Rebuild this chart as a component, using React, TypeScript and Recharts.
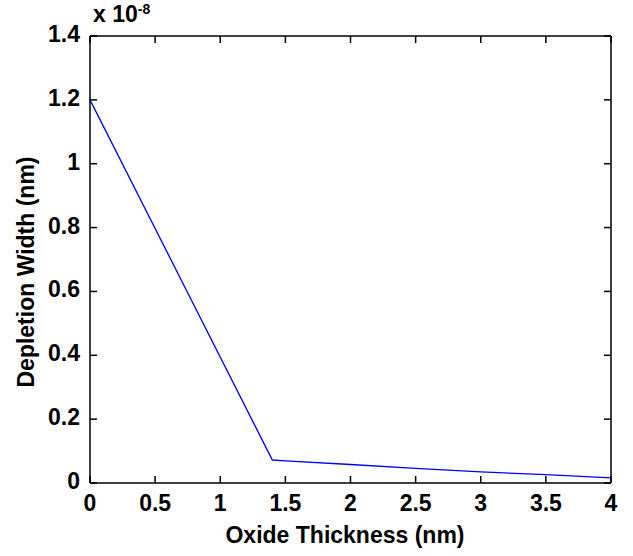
import { Label, Line, LineChart, ReferenceLine, XAxis, YAxis } from "recharts";

const thickness = [0, 1.4, 1.5, 2, 2.5, 3, 3.5, 4];
const depletion = [1.2, 0.072, 0.069, 0.058, 0.046, 0.035, 0.026, 0.016];

const xTicks = [0, 0.5, 1, 1.5, 2, 2.5, 3, 3.5, 4];
const yTicks = [0, 0.2, 0.4, 0.6, 0.8, 1, 1.2, 1.4];

const rows = thickness.map((t, i) => ({ t, w: depletion[i] }));

const FONT = "'Liberation Sans', Arial, sans-serif";
const INK = "#000";
// inward tick length, in axis units (about 7px each way)
const X_TICK = 0.054;
const Y_TICK = 0.022;

function BottomTick({ x, y, payload }: any) {
  return (
    <text x={x} y={y + 28} textAnchor="middle" fontFamily={FONT} fontWeight="bold" fontSize={23} fill="#000">
      {payload.value}
    </text>
  );
}

function LeftTick({ x, y, payload }: any) {
  return (
    <text x={x - 10} y={y + 6} textAnchor="end" fontFamily={FONT} fontWeight="bold" fontSize={23} fill="#000">
      {payload.value}
    </text>
  );
}

const axisLine = { stroke: INK, strokeWidth: 1.5 };

export default function App() {
  const tickMarks = [
    ...xTicks.map((t) => [{ x: t, y: 0 }, { x: t, y: Y_TICK }]),
    ...xTicks.map((t) => [{ x: t, y: 1.4 }, { x: t, y: 1.4 - Y_TICK }]),
    ...yTicks.map((v) => [{ x: 0, y: v }, { x: X_TICK, y: v }]),
    ...yTicks.map((v) => [{ x: 4, y: v }, { x: 4 - X_TICK, y: v }]),
  ];

  return (
    <div style={{ position: "absolute", left: 0, top: 0, background: "#fff" }}>
      <LineChart width={633} height={556} data={rows} margin={{ top: 35, right: 21, left: 0, bottom: 0 }}>
        <XAxis
          xAxisId="b"
          dataKey="t"
          type="number"
          domain={[0, 4]}
          ticks={xTicks}
          height={73}
          tickSize={0}
          tickMargin={0}
          tickLine={false}
          tick={<BottomTick />}
          axisLine={axisLine}
          interval={0}
        >
          <Label
            content={() => (
              <text x={345} y={543} textAnchor="middle" fontFamily={FONT} fontWeight="bold" fontSize={23} fill="#000">
                Oxide Thickness (nm)
              </text>
            )}
          />
        </XAxis>
        <XAxis
          xAxisId="t"
          orientation="top"
          dataKey="t"
          type="number"
          domain={[0, 4]}
          ticks={xTicks}
          height={1}
          tickLine={false}
          tick={false}
          axisLine={axisLine}
        />
        <YAxis
          yAxisId="l"
          type="number"
          domain={[0, 1.4]}
          ticks={yTicks}
          width={90}
          tickSize={0}
          tickMargin={0}
          tickLine={false}
          tick={<LeftTick />}
          axisLine={axisLine}
          interval={0}
        >
          <Label
            content={() => (
              <g>
                <text
                  x={0}
                  y={0}
                  transform="translate(34,272) rotate(-90)"
                  textAnchor="middle"
                  fontFamily={FONT}
                  fontWeight="bold"
                  fontSize={23}
                  fill="#000"
                >
                  Depletion Width (nm)
                </text>
                <text x={93} y={22} fontFamily={FONT} fontWeight="bold" fontSize={23} fill="#000">
                  x 10
                  <tspan fontSize={14} dy={-8}>-8</tspan>
                </text>
              </g>
            )}
          />
        </YAxis>
        <YAxis
          yAxisId="r"
          orientation="right"
          type="number"
          domain={[0, 1.4]}
          ticks={yTicks}
          width={1}
          tickLine={false}
          tick={false}
          axisLine={axisLine}
        />
        {tickMarks.map((seg, i) => (
          <ReferenceLine
            key={i}
            xAxisId="b"
            yAxisId="l"
            segment={seg}
            stroke={INK}
            strokeWidth={1.5}
            ifOverflow="visible"
          />
        ))}
        <Line
          xAxisId="b"
          yAxisId="l"
          type="linear"
          dataKey="w"
          stroke="#0000ff"
          strokeWidth={1.3}
          dot={false}
          isAnimationActive={false}
        />
      </LineChart>
    </div>
  );
}
